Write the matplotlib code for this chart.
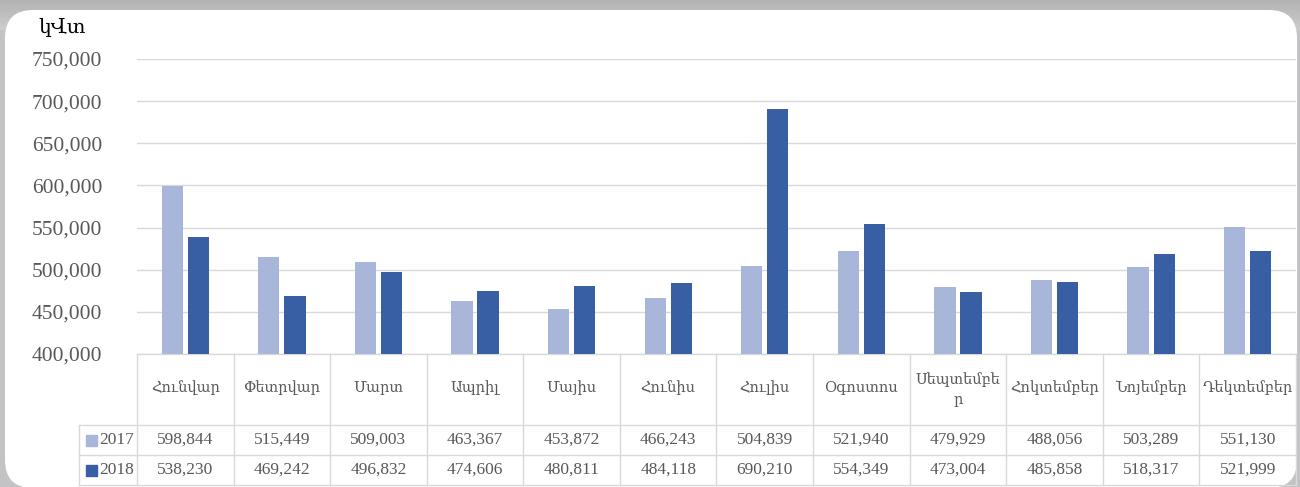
import matplotlib.pyplot as plt
import matplotlib.transforms as mtransforms
from matplotlib.patches import FancyBboxPatch, Rectangle
import numpy as np

# data
months = ["Հունվար", "Փետրվար", "Մարտ", "Ապրիլ", "Մայիս", "Հունիս",
          "Հուլիս", "Օգոստոս", "Սեպտեմբե\nր", "Հոկտեմբեր", "Նոյեմբեր", "Դեկտեմբեր"]
series_names = ["2017", "2018"]
values_2017 = [598844, 515449, 509003, 463367, 453872, 466243,
               504839, 521940, 479929, 488056, 503289, 551130]
values_2018 = [538230, 469242, 496832, 474606, 480811, 484118,
               690210, 554349, 473004, 485858, 518317, 521999]
unit_label = "կՎտ"

c17 = "#a8b6da"
c18 = "#385ea4"
grid_c = "#d9d9d9"
txt_c = "#595959"
num_font = ["Liberation Serif", "DejaVu Serif"]
arm_font = ["DejaVu Serif"]

W, H = 1300, 487
fig = plt.figure(figsize=(W / 100, H / 100), dpi=100)
fig.patch.set_facecolor("#c3c3c5")

# background card
bg = fig.add_axes([0, 0, 1, 1])
bg.set_xlim(0, W)
bg.set_ylim(H, 0)
bg.axis("off")
grad = np.linspace(0.70, 0.80, 64).reshape(-1, 1)
bg.imshow(grad, extent=[0, W, 30, 0], cmap="gray", vmin=0, vmax=1, aspect="auto")
r = 28
bg.add_patch(FancyBboxPatch((5 + r, 10 + r), 1297 - 5 - 2 * r, 488 - 10 - 2 * r,
                            boxstyle=f"round,pad={r}", fc="white", ec="none"))

# main axes
x0, x1 = 137, 1296
ytop, ybot = 59, 354
ax = fig.add_axes([x0 / W, 1 - ybot / H, (x1 - x0) / W, (ybot - ytop) / H])
ax.set_facecolor("none")
x = np.arange(len(months))
bw = 0.22
ax.bar(x - 0.135, values_2017, bw, color=c17, zorder=3)
ax.bar(x + 0.135, values_2018, bw, color=c18, zorder=3)
ax.set_xlim(-0.5, len(months) - 0.5)
ax.set_ylim(400000, 750000)
ax.set_yticks(range(400000, 750001, 50000))
ax.set_yticklabels([f"{v:,}" for v in range(400000, 750001, 50000)],
                   fontfamily=num_font, fontsize=15.5, color=txt_c)
ax.tick_params(axis="y", length=0, pad=25)
ax.set_xticks([])
ax.grid(axis="y", color=grid_c, lw=1, zorder=0)
for s in ax.spines.values():
    s.set_visible(False)

fig.text(38 / W, 1 - 27 / H, unit_label, fontfamily=arm_font, fontsize=14.5,
         color="black", va="center", ha="left")

# data table below the axes
tr = mtransforms.blended_transform_factory(ax.transData, ax.transAxes)
ph = ybot - ytop
y_head = -71 / ph
y_r1 = -101 / ph
y_r2 = -131 / ph
px_per_unit = (x1 - x0) / len(months)
xl = -0.5 - 58 / px_per_unit
n = len(months)
lk = dict(color=grid_c, lw=1, transform=tr, clip_on=False)
ax.plot([-0.5, n - 0.5], [0, 0], **lk)
for yy in (y_head, y_r1, y_r2):
    ax.plot([xl, n - 0.5], [yy, yy], **lk)
for i in range(n + 1):
    ax.plot([i - 0.5, i - 0.5], [0, y_r2], **lk)
ax.plot([xl, xl], [y_head, y_r2], **lk)

for i, m in enumerate(months):
    ax.text(i, y_head * 0.5 if "\n" in m else y_head * 0.48, m, transform=tr,
            ha="center", va="center", fontfamily=arm_font, fontsize=10.5,
            color=txt_c, linespacing=1.5)
    ax.text(i, (y_head + y_r1) / 2, f"{values_2017[i]:,}", transform=tr,
            ha="center", va="center", fontfamily=num_font, fontsize=12.5, color=txt_c)
    ax.text(i, (y_r1 + y_r2) / 2, f"{values_2018[i]:,}", transform=tr,
            ha="center", va="center", fontfamily=num_font, fontsize=12.5, color=txt_c)

sq = 11 / px_per_unit
sq_h = 11 / ph
for name, col, (ya, yb) in zip(series_names, [c17, c18], [(y_head, y_r1), (y_r1, y_r2)]):
    ym = (ya + yb) / 2
    ax.add_patch(Rectangle((xl + 7 / px_per_unit, ym - sq_h / 2), sq, sq_h,
                           transform=tr, color=col, clip_on=False))
    ax.text(xl + 20 / px_per_unit, ym, name, transform=tr, ha="left", va="center",
            fontfamily=num_font, fontsize=12.5, color=txt_c)

fig.savefig("out.png", dpi=100, facecolor=fig.get_facecolor())
